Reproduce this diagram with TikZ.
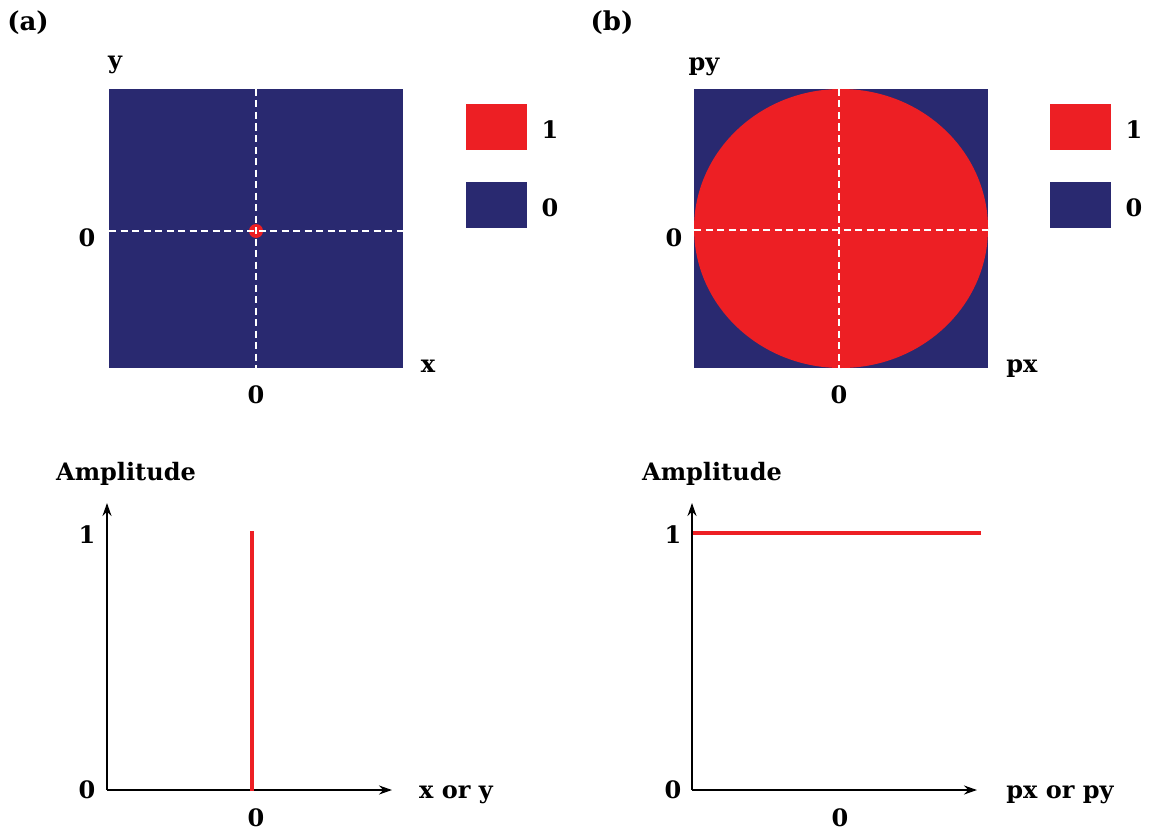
\documentclass[tikz,border=0pt]{standalone}
\usepackage{fontspec}
\setmainfont{DejaVu Serif}
\usetikzlibrary{arrows.meta}
\definecolor{navy}{RGB}{41,41,112}
\definecolor{redf}{RGB}{237,31,36}
\begin{document}
\begin{tikzpicture}[x=1pt,y=-1pt,
  lbl/.style={inner sep=0pt,anchor=base,font=\fontsize{24}{28}\selectfont\bfseries},
  dashw/.style={white,line width=2.2pt,dash pattern=on 7pt off 4.5pt},
  axisarrow/.style={black,line width=2pt,-{Stealth[length=13pt,width=9pt]}},
  redline/.style={redf,line width=3.5pt}]
\useasboundingbox (0,0) rectangle (1150,832);

% ---------- (a) top ----------
\fill[navy] (109,89) rectangle (403,368);
\fill[redf] (256,231) circle (7pt);
\draw[dashw] (256,89) -- (256,368);
\draw[dashw] (109,231) -- (403,231);
\fill[redf] (466,104) rectangle (527,150);
\fill[navy] (466,182) rectangle (527,228);

% ---------- (b) top ----------
\fill[navy] (694,89) rectangle (988,368);
\fill[redf] (841,228.5) ellipse [x radius=147pt, y radius=139.5pt];
\draw[dashw] (839,89) -- (839,368);
\draw[dashw] (694,230) -- (988,230);
\fill[redf] (1050,104) rectangle (1111,150);
\fill[navy] (1050,182) rectangle (1111,228);

% ---------- (a) bottom ----------
\coordinate (oa) at (107,790);
\coordinate (yta) at (107,503);
\coordinate (xta) at (392,790);
\coordinate (ra0) at (252,791);
\coordinate (ra1) at (252,531);
\draw[axisarrow] (oa) -- (yta);
\draw[axisarrow] (oa) -- (xta);
\draw[redline] (ra0) -- (ra1);

% ---------- (b) bottom ----------
\coordinate (ob) at (692,790);
\coordinate (ytb) at (692,503);
\coordinate (xtb) at (977,790);
\coordinate (rb0) at (693,533);
\coordinate (rb1) at (981,533);
\draw[axisarrow] (ob) -- (ytb);
\draw[axisarrow] (ob) -- (xtb);
\draw[redline] (rb0) -- (rb1);

% ---------- labels ----------
\node[lbl,font=\fontsize{26}{30}\selectfont\bfseries] (la) at (28,31) {(a)};
\node[lbl,font=\fontsize{26}{30}\selectfont\bfseries] (lb) at (612,31) {(b)};
\node[lbl] (ty) at (115,69) {y};
\node[lbl] (tpy) at (704,71) {py};
\node[lbl] (t0la) at (87,246) {0};
\node[lbl] (t0lb) at (674,246) {0};
\node[lbl] (tx) at (428,372) {x};
\node[lbl] (tpx) at (1022,372) {px};
\node[lbl] (t0ba) at (256,403) {0};
\node[lbl] (t0bb) at (839,403) {0};
\node[lbl] (leg1a) at (550,139) {1};
\node[lbl] (leg0a) at (550,216) {0};
\node[lbl] (leg1b) at (1134,139) {1};
\node[lbl] (leg0b) at (1134,216) {0};
\node[lbl] (ampa) at (126,480) {Amplitude};
\node[lbl] (ampb) at (712,480) {Amplitude};
\node[lbl] (one_a) at (87,543) {1};
\node[lbl] (one_b) at (673,543) {1};
\node[lbl] (zero_a) at (87,798) {0};
\node[lbl] (zero_b) at (673,798) {0};
\node[lbl] (xz_a) at (256,826) {0};
\node[lbl] (xz_b) at (840,826) {0};
\node[lbl] (xlab_a) at (456,798) {x or y};
\node[lbl] (xlab_b) at (1060,798) {px or py};
\end{tikzpicture}
\end{document}
